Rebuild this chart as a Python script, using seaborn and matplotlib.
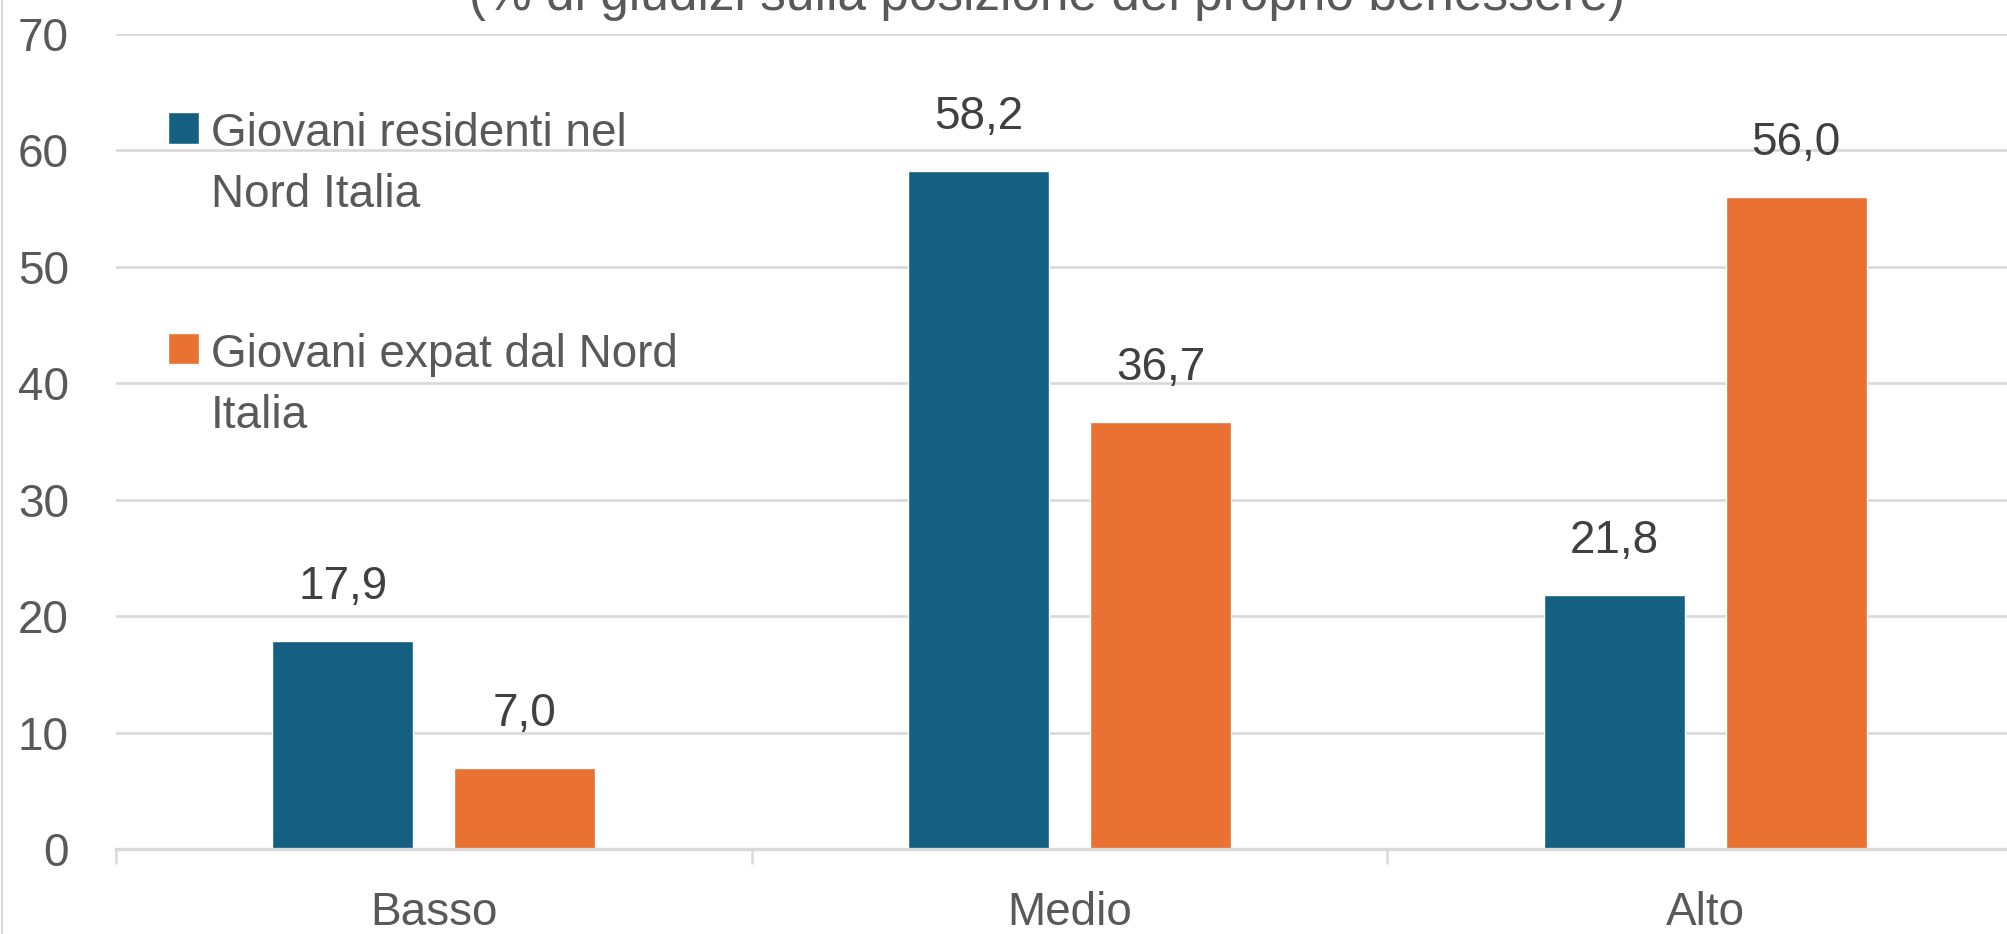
import matplotlib
matplotlib.use("Agg")
import matplotlib.pyplot as plt
from matplotlib.lines import Line2D
from matplotlib.patches import Rectangle
from matplotlib.legend_handler import HandlerPatch
from matplotlib.ticker import FixedLocator
import numpy as np
import pandas as pd
import seaborn as sns

# Dati
livelli = ["Basso", "Medio", "Alto"]
gruppi = ["Giovani residenti nel\nNord Italia", "Giovani expat dal Nord\nItalia"]
residenti = [17.9, 58.2, 21.8]
expat = [7.0, 36.7, 56.0]
y_ticks = [0, 10, 20, 30, 40, 50, 60, 70]
titolo = "(% di giudizi sulla posizione del proprio benessere)"

BLU = "#156082"
ARANCIO = "#E97132"
GRIGIO_GRIGLIA = "#D9D9D9"
GRIGIO_TESTO = "#595959"
GRIGIO_VALORI = "#404040"

df = pd.DataFrame({
    "livello": livelli * 2,
    "gruppo": [gruppi[0]] * 3 + [gruppi[1]] * 3,
    "valore": residenti + expat,
})

sns.set_theme(style="white")
plt.rcParams["font.family"] = ["Liberation Sans", "DejaVu Sans"]

W, H = 2007, 934
fig = plt.figure(figsize=(W / 100, H / 100), dpi=100)
ax = fig.add_axes([116 / W, 85 / H, (2023 - 116) / W, (849 - 34) / H])

sns.barplot(
    data=df, x="livello", y="valore", hue="gruppo", order=livelli,
    hue_order=gruppi, palette=[BLU, ARANCIO], saturation=1,
    width=0.572, gap=0.224, errorbar=None, ax=ax,
)

ax.set_xlim(-0.5, 2.5)
ax.set_ylim(0, 70)
ax.set_yticks(y_ticks)
ax.set_xlabel("")
ax.set_ylabel("")

# Griglia orizzontale
for v in y_ticks[1:]:
    ax.axhline(v, color=GRIGIO_GRIGLIA, lw=1.9, zorder=0)
ax.set_axisbelow(True)

for s in ["top", "right", "left"]:
    ax.spines[s].set_visible(False)
ax.spines["bottom"].set_color(GRIGIO_GRIGLIA)
ax.spines["bottom"].set_linewidth(2.4)

# Separatori tra categorie
ax.xaxis.set_minor_locator(FixedLocator([-0.5, 0.5, 1.5, 2.5]))
ax.tick_params(axis="x", which="minor", bottom=True, length=11, width=1.8,
               color=GRIGIO_GRIGLIA, direction="out")
ax.tick_params(axis="x", which="major", length=0, pad=30.5, labelsize=33,
               labelcolor=GRIGIO_TESTO)
ax.tick_params(axis="y", length=0, pad=34, labelsize=33, labelcolor=GRIGIO_TESTO)

# Etichette dei valori
for cont in ax.containers:
    vals = cont.datavalues
    ax.bar_label(cont, labels=[f"{v:.1f}".replace(".", ",") for v in vals],
                 padding=23, fontsize=33, color=GRIGIO_VALORI)


# Quadratino della legenda allineato alla prima riga del testo
def quadrato_in_alto(legend, orig_handle, xdescent, ydescent, width, height, fontsize):
    return Rectangle((-xdescent, -ydescent + 27), width, height)


handles, labels = ax.get_legend_handles_labels()
leg = ax.legend(
    handles, labels, loc="upper left",
    bbox_to_anchor=(168 / W, 1 - 112 / H), bbox_transform=fig.transFigure,
    frameon=False, borderpad=0, borderaxespad=0,
    handlelength=0.67, handleheight=0.67,
    handletextpad=0.27, labelspacing=2.53,
    prop={"family": ["Liberation Sans"], "size": 33},
    handler_map={type(handles[0]): HandlerPatch(patch_func=quadrato_in_alto)},
)
for t in leg.get_texts():
    t.set_color(GRIGIO_TESTO)
    t.set_linespacing(1.5)

# Titolo (in parte fuori dal riquadro)
fig.text(1047 / W, 1 - 10 / H, titolo, ha="center", va="baseline",
         fontsize=37, color=GRIGIO_TESTO)

# Bordo sinistro del riquadro
fig.add_artist(Line2D([2 / W, 2 / W], [0, 1], transform=fig.transFigure,
                      color=GRIGIO_GRIGLIA, lw=1.5))

fig.savefig("out.png", dpi=100, facecolor="white")
